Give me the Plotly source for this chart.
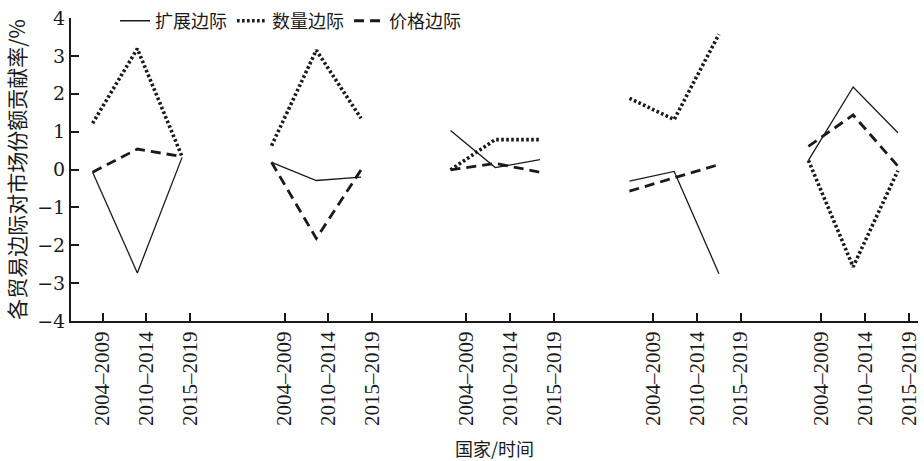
import plotly.graph_objects as go

# ---- data ----
groups = ["G1", "G2", "G3", "G4", "G5"]
periods = ["2004–2009", "2010–2014", "2015–2019"]

extensive = [
    [-0.07, -2.73, 0.32],
    [0.19, -0.29, -0.20],
    [1.03, 0.05, 0.26],
    [-0.31, -0.05, -2.75],
    [0.24, 2.18, 0.97],
]
quantity = [
    [1.22, 3.19, 0.34],
    [0.63, 3.15, 1.35],
    [-0.01, 0.79, 0.79],
    [1.88, 1.32, 3.57],
    [0.24, -2.57, -0.03],
]
price = [
    [-0.07, 0.54, 0.34],
    [0.19, -1.82, -0.01],
    [-0.01, 0.16, -0.07],
    [-0.57, -0.22, 0.13],
    [0.61, 1.44, 0.09],
]
series_names = ["扩展边际", "数量边际", "价格边际"]
y_ticks = [-4, -3, -2, -1, 0, 1, 2, 3, 4]

# ---- layout helpers (positions) ----
slots_per_group = 4
tick_group_start = [0.223, 4.290, 8.352, 12.523, 16.287]
tick_step = 0.98

BLACK = "#1a1a1a"
SERIF = "Times New Roman"
SERIF2 = "DejaVu Serif"
CJK = "Noto Sans CJK SC"

fig = go.Figure()

styles = [
    dict(color=BLACK, width=1.3, dash="solid"),
    dict(color=BLACK, width=3.6, dash="2.6px,2.4px"),
    dict(color=BLACK, width=2.8, dash="10px,6px"),
]
all_series = [extensive, quantity, price]

for si, (name, data, st) in enumerate(zip(series_names, all_series, styles)):
    for gi, vals in enumerate(data):
        xs = [gi * slots_per_group + j for j in range(len(periods))]
        fig.add_trace(go.Scatter(
            x=xs, y=vals, mode="lines", name=name,
            legendgroup=name, showlegend=(gi == 0),
            line=st, hoverinfo="skip",
        ))

tickvals = []
ticktext = []
for gi in range(len(groups)):
    for j, p in enumerate(periods):
        tickvals.append(tick_group_start[gi] + j * tick_step)
        ticktext.append(p)

fig.update_layout(
    width=924, height=461,
    margin=dict(l=71, r=3, t=17, b=140),
    paper_bgcolor="white", plot_bgcolor="white",
    showlegend=True,
    legend=dict(
        orientation="h", x=0.052, xanchor="left", y=0.99, yanchor="middle",
        font=dict(family=CJK, size=18, color=BLACK),
        bgcolor="rgba(0,0,0,0)", borderwidth=0,
        itemwidth=30, tracegroupgap=0,
    ),
    xaxis=dict(
        range=[-0.483, 18.45],
        tickmode="array", tickvals=tickvals, ticktext=ticktext,
        tickangle=-90,
        ticks="inside", ticklen=8, tickwidth=1.5, tickcolor=BLACK,
        showline=True, linewidth=2, linecolor=BLACK,
        showgrid=False, zeroline=False,
        tickfont=dict(family=SERIF, size=21, color=BLACK),
        title=dict(text="国家/时间", font=dict(family=CJK, size=18, color=BLACK), standoff=18),
    ),
    yaxis=dict(
        range=[-4, 4],
        tickmode="array", tickvals=y_ticks, ticktext=[("−" + str(-v)) if v < 0 else str(v) for v in y_ticks],
        ticks="inside", ticklen=8, tickwidth=1.5, tickcolor=BLACK,
        showline=True, linewidth=2, linecolor=BLACK,
        showgrid=False, zeroline=False,
        tickfont=dict(family=SERIF2, size=19, color=BLACK),
        title=dict(text="各贸易边际对市场份额贡献率/%", font=dict(family=CJK, size=21, color=BLACK), standoff=6),
    ),
)

fig.write_html("out.html")
